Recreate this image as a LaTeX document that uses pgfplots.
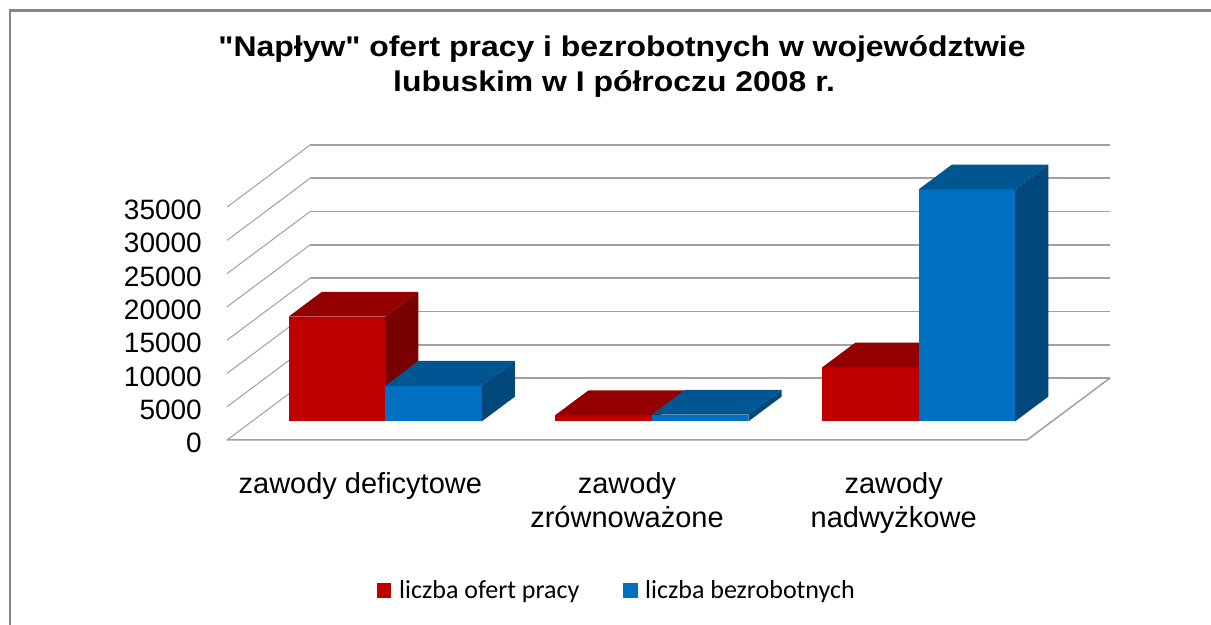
\documentclass[border=0pt]{standalone}
\usepackage{pgfplots}
\pgfplotsset{compat=1.18}
\usepackage{fontspec}
\setmainfont{Liberation Sans}
\newfontfamily\titlefont[FakeStretch=1.12]{Liberation Sans}
\newfontfamily\legfont{Carlito}
\definecolor{redF}{RGB}{192,0,0}
\definecolor{redT}{RGB}{148,0,0}
\definecolor{redS}{RGB}{122,0,0}
\definecolor{bluF}{RGB}{0,112,192}
\definecolor{bluT}{RGB}{0,86,145}
\definecolor{bluS}{RGB}{0,72,124}
\definecolor{gridc}{RGB}{160,160,160}
\definecolor{borderc}{RGB}{134,134,134}
% #1 x0, #2 x1, #3 value, #4 front, #5 top, #6 side
\newcommand{\cuboid}[6]{%
  \addplot3[fill=#4, draw=none, forget plot] coordinates {(#1,0.3,0) (#2,0.3,0) (#2,0.3,#3) (#1,0.3,#3)};
  \addplot3[fill=#5, draw=none, forget plot] coordinates {(#1,0.3,#3) (#2,0.3,#3) (#2,0.7,#3) (#1,0.7,#3)};
  \addplot3[fill=#6, draw=none, forget plot] coordinates {(#2,0.3,0) (#2,0.7,0) (#2,0.7,#3) (#2,0.3,#3)};
}
\begin{document}
\begin{tikzpicture}
\useasboundingbox (0,0) rectangle (1211bp,625bp);
\fill[white] (0,0) rectangle (1211bp,625bp);
\draw[borderc, line width=2.5bp] (10bp,0bp) -- (10bp,614.5bp) -- (1211bp,614.5bp);
\begin{axis}[anchor=origin, at={(227bp,185bp)},
  x={(266.67bp,0bp)}, y={(83bp,62bp)}, z={(0bp,0.0066667bp)},
  xmin=0, xmax=3, ymin=0, ymax=1, zmin=0, zmax=35000,
  hide axis, clip=false]
% walls and grid
\pgfplotsinvokeforeach{0,5000,10000,15000,20000,25000,30000,35000}{
  \addplot3[gridc, line width=1bp, forget plot] coordinates {(0,0,#1) (0,1,#1)};
  \addplot3[gridc, line width=1.7bp, forget plot] coordinates {(0,1,#1) (3,1,#1)};
  \node[anchor=east, inner sep=0pt, xshift=-25bp, yshift=-3bp, font=\fontsize{28bp}{33bp}\selectfont] at (axis cs:0,0,#1) {#1};
}
\addplot3[gridc, line width=1.5bp, forget plot] coordinates {(0,0,0) (3,0,0) (3,1,0)};
% bars: liczba ofert pracy (red) and liczba bezrobotnych (blue)
\cuboid{0.138}{0.5}{15750}{redF}{redT}{redS}
\cuboid{0.5}{0.862}{5350}{bluF}{bluT}{bluS}
\cuboid{1.138}{1.5}{950}{redF}{redT}{redS}
\cuboid{1.5}{1.862}{1000}{bluF}{bluT}{bluS}
\cuboid{2.138}{2.5}{8100}{redF}{redT}{redS}
\cuboid{2.5}{2.862}{34850}{bluF}{bluT}{bluS}
% category labels
\node[anchor=base, inner sep=0pt, yshift=-54bp, font=\fontsize{29bp}{33bp}\selectfont] at (axis cs:0.5,0,0) {zawody deficytowe};
\node[anchor=base, inner sep=0pt, yshift=-54bp, font=\fontsize{29bp}{33bp}\selectfont] at (axis cs:1.5,0,0) {zawody};
\node[anchor=base, inner sep=0pt, yshift=-87bp, font=\fontsize{29bp}{33bp}\selectfont] at (axis cs:1.5,0,0) {zrównoważone};
\node[anchor=base, inner sep=0pt, yshift=-54bp, font=\fontsize{29bp}{33bp}\selectfont] at (axis cs:2.5,0,0) {zawody};
\node[anchor=base, inner sep=0pt, yshift=-87bp, font=\fontsize{29bp}{33bp}\selectfont] at (axis cs:2.5,0,0) {nadwyżkowe};
\end{axis}
% title
\node[anchor=base, inner sep=0pt, font=\titlefont\bfseries\fontsize{28.5bp}{34bp}\selectfont] at (622bp,568bp) {"Napływ" ofert pracy i bezrobotnych w województwie};
\node[anchor=base, inner sep=0pt, font=\titlefont\bfseries\fontsize{28.5bp}{34bp}\selectfont] at (614bp,533bp) {lubuskim w I półroczu 2008 r.};
% legend
\fill[redF] (377bp,27bp) rectangle (391bp,42bp);
\node[anchor=base west, inner sep=0pt, font=\legfont\fontsize{26bp}{30bp}\selectfont] at (399bp,27bp) {liczba ofert pracy};
\fill[bluF] (623bp,27bp) rectangle (638bp,42bp);
\node[anchor=base west, inner sep=0pt, font=\legfont\fontsize{26bp}{30bp}\selectfont] at (645bp,27bp) {liczba bezrobotnych};
\end{tikzpicture}
\end{document}
